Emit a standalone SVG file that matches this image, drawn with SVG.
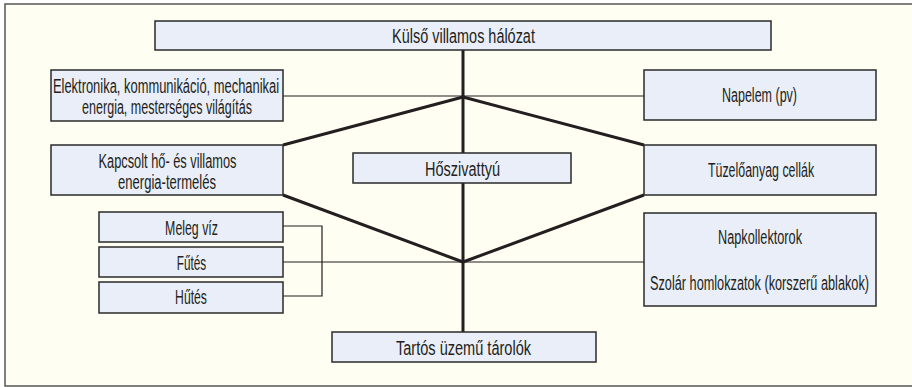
<svg xmlns="http://www.w3.org/2000/svg" width="912" height="387" viewBox="0 0 912 387">
<style>
.bg{fill:#fefef3;stroke:#555;stroke-width:1.5}
.box{fill:#e9eef8;stroke:#2a2a2a;stroke-width:1.5}
.t{font-family:"Liberation Sans",Arial,sans-serif;font-size:21px;fill:#231f20;text-anchor:middle}
.thick{stroke:#231f20;stroke-width:3;fill:none;stroke-linejoin:round}
.thin{stroke:#231f20;stroke-width:1.2;fill:none}
</style>
<rect x="5" y="4" width="920" height="382" class="bg"/>
<g id="connectors">
<line x1="463" y1="50" x2="463" y2="332" class="thick"/>
<polyline points="283,145 463,97 644,145" class="thick"/>
<polyline points="283,195 463,262 644,195" class="thick"/>
<line x1="283" y1="96" x2="644" y2="96" class="thin"/>
<line x1="283" y1="262" x2="644" y2="262" class="thin"/>
<polyline points="283,226 322,226 322,296 283,296" class="thin"/>
</g>
<g id="kulso"><rect x="155" y="21" width="616" height="29" class="box"/><text transform="matrix(0.6 0 0 1 463.5 43)" class="t" textLength="238" lengthAdjust="spacingAndGlyphs">Külső villamos hálózat</text></g>
<g id="elektronika"><rect x="51" y="70" width="232" height="51" class="box"/><text transform="matrix(0.6 0 0 1 166 93)" class="t" textLength="377" lengthAdjust="spacingAndGlyphs">Elektronika, kommunikáció, mechanikai</text><text transform="matrix(0.6 0 0 1 167 114)" class="t" textLength="283" lengthAdjust="spacingAndGlyphs">energia, mesterséges világítás</text></g>
<g id="napelem"><rect x="644" y="70" width="232" height="50" class="box"/><text transform="matrix(0.6 0 0 1 759.5 102)" class="t" textLength="125" lengthAdjust="spacingAndGlyphs">Napelem (pv)</text></g>
<g id="kapcsolt"><rect x="51" y="145" width="232" height="50" class="box"/><text transform="matrix(0.6 0 0 1 167.5 168)" class="t" textLength="230" lengthAdjust="spacingAndGlyphs">Kapcsolt hő- és villamos</text><text transform="matrix(0.6 0 0 1 167 188.5)" class="t" textLength="163" lengthAdjust="spacingAndGlyphs">energia-termelés</text></g>
<g id="hoszivattyu"><rect x="353" y="153" width="218" height="30" class="box"/><text transform="matrix(0.6 0 0 1 462.5 176)" class="t" textLength="125" lengthAdjust="spacingAndGlyphs">Hőszivattyú</text></g>
<g id="tuzeloanyag"><rect x="644" y="145" width="232" height="50" class="box"/><text transform="matrix(0.6 0 0 1 761 177)" class="t" textLength="177" lengthAdjust="spacingAndGlyphs">Tüzelőanyag cellák</text></g>
<g id="meleg"><rect x="99" y="212" width="184" height="30" class="box"/><text transform="matrix(0.6 0 0 1 191.5 235)" class="t" textLength="88" lengthAdjust="spacingAndGlyphs">Meleg víz</text></g>
<g id="futes"><rect x="99" y="247" width="184" height="30" class="box"/><text transform="matrix(0.6 0 0 1 191.5 270)" class="t" textLength="49" lengthAdjust="spacingAndGlyphs">Fűtés</text></g>
<g id="hutes"><rect x="99" y="282" width="184" height="31" class="box"/><text transform="matrix(0.6 0 0 1 191 304)" class="t" textLength="53" lengthAdjust="spacingAndGlyphs">Hűtés</text></g>
<g id="napkollektor"><rect x="644" y="213" width="232" height="93" class="box"/><text transform="matrix(0.6 0 0 1 760 244)" class="t" textLength="140" lengthAdjust="spacingAndGlyphs">Napkollektorok</text><text transform="matrix(0.6 0 0 1 759.5 290)" class="t" textLength="365" lengthAdjust="spacingAndGlyphs">Szolár homlokzatok (korszerű ablakok)</text></g>
<g id="tartos"><rect x="332" y="332" width="264" height="30" class="box"/><text transform="matrix(0.6 0 0 1 463.5 355)" class="t" textLength="225" lengthAdjust="spacingAndGlyphs">Tartós üzemű tárolók</text></g>
</svg>
